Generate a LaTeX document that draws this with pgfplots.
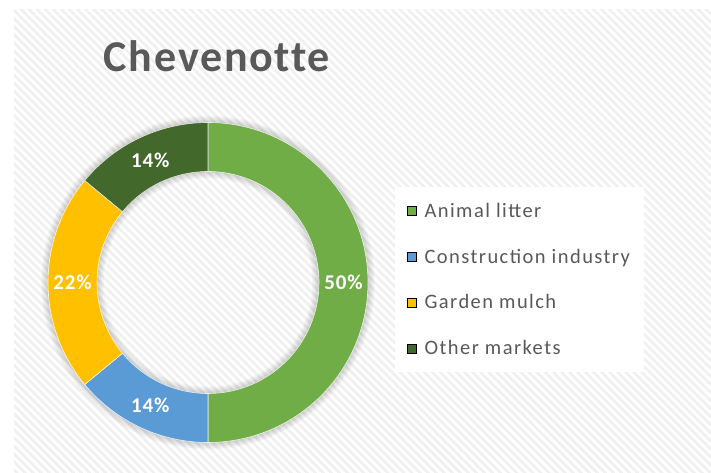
\documentclass[border=0pt]{standalone}
\usepackage{pgfplots}
\pgfplotsset{compat=1.18}
\usepackage{pgfplotstable}
\usepackage{fontspec}
\setmainfont{Carlito}
\newfontfamily\wide{Carlito}[LetterSpace=7]
\newfontfamily\widebold{Carlito}[LetterSpace=4,Ligatures=NoCommon]
\usetikzlibrary{calc,patterns.meta}

\definecolor{cA}{HTML}{70AD47}
\definecolor{cB}{HTML}{5B9BD5}
\definecolor{cC}{HTML}{FFC000}
\definecolor{cD}{HTML}{43682B}
\definecolor{txt}{HTML}{595959}

\pgfplotstableread{
label value
{Animal litter} 50
{Construction industry} 14
{Garden mulch} 22
{Other markets} 14
}\shares

% donut centre in px units of the axis
\def\cx{208}
\def\cy{189.5}

\newcommand{\segment}[4]{%
  \filldraw[fill=#3, draw=white!85!#3, line width=0.6pt] (axis cs:\cx,\cy) ++(#1:160pt) arc[start angle=#1,end angle=#2,radius=160pt]
    -- ++(#2:-49pt) arc[start angle=#2,end angle=#1,radius=111pt] -- cycle;
  \node[text=white,font=\widebold\fontsize{21}{23}\selectfont\bfseries]
    at ($(axis cs:\cx,\cy)+({(#1+#2)/2}:135.5pt)$) {#4\%};
}

\begin{document}
\begin{tikzpicture}
\pgfplotstablegetelem{0}{value}\of\shares \let\vA\pgfplotsretval
\pgfplotstablegetelem{1}{value}\of\shares \let\vB\pgfplotsretval
\pgfplotstablegetelem{2}{value}\of\shares \let\vC\pgfplotsretval
\pgfplotstablegetelem{3}{value}\of\shares \let\vD\pgfplotsretval
\pgfmathsetmacro{\aA}{90}
\pgfmathsetmacro{\aB}{\aA-3.6*\vA}
\pgfmathsetmacro{\aC}{\aB-3.6*\vB}
\pgfmathsetmacro{\aD}{\aC-3.6*\vC}
\pgfmathsetmacro{\aE}{\aD-3.6*\vD}
\begin{axis}[
    scale only axis,
    width=711pt, height=472pt,
    xmin=0, xmax=711, ymin=0, ymax=472,
    hide axis, clip=false,
    legend style={at={(axis cs:395,285)}, anchor=north west,
        fill=white, draw=none, inner xsep=12pt, inner ysep=14pt,
        font=\wide\fontsize{20.5}{22}\selectfont, text=txt,
        row sep=26pt, cells={anchor=west}},
    legend image code/.code={\fill[#1] (-1pt,-4.5pt) rectangle (8pt,4.5pt); \path (14pt,0pt);},
]
\coordinate (bl) at (axis cs:0,0);
\coordinate (tr) at (axis cs:711,472);
\fill[white] (axis cs:0,0) rectangle (axis cs:711,472);
\fill[pattern={Lines[angle=-45,distance=5.7pt,line width=2.6pt]}, pattern color=gray!12]
  (axis cs:14,0) rectangle (axis cs:711,462);
% soft shadow around the ring
\pgfplotsinvokeforeach{1,2,3,4,5,6,7}{
  \draw[black, opacity=0.025, line width=2*#1 pt] (axis cs:\cx,\cy) circle[radius=160pt];
  \draw[black, opacity=0.025, line width=2*#1 pt] (axis cs:\cx,\cy) circle[radius=111pt];
}
\segment{\aA}{\aB}{cA}{\vA}
\segment{\aB}{\aC}{cB}{\vB}
\segment{\aC}{\aD}{cC}{\vC}
\segment{\aD}{\aE}{cD}{\vD}
\node[text=txt, font=\widebold\fontsize{44}{48}\selectfont\bfseries, anchor=base]
  at (axis cs:217,400) {Chevenotte};
\addlegendimage{fill=cA}\addlegendentry{Animal litter}
\addlegendimage{fill=cB}\addlegendentry{Construction industry}
\addlegendimage{fill=cC}\addlegendentry{Garden mulch}
\addlegendimage{fill=cD}\addlegendentry{Other markets}
\end{axis}
\pgfresetboundingbox
\path[use as bounding box] (bl) rectangle (tr);
\end{tikzpicture}
\end{document}
